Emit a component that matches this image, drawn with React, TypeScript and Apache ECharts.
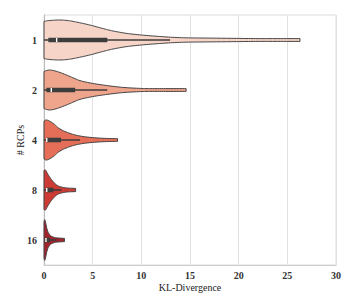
import React, { useEffect, useRef } from "react";
import * as echarts from "echarts";

const categories = ["1", "2", "4", "8", "16"];
const colors = ["#f6d4c8", "#efa58b", "#e46e57", "#cd3b35", "#a2242a"];

// violin profiles: [KL value, relative half-width]
const violin1 = [[0, 0.93], [0.5, 0.97], [1.5, 1.0], [2.5, 0.97], [3.5, 0.88], [4.7, 0.75], [6, 0.58], [7.1, 0.45], [8.5, 0.33], [10, 0.25], [11.5, 0.19], [13, 0.14], [14.5, 0.11], [16, 0.1], [18, 0.09], [20, 0.08], [22, 0.07], [24, 0.07], [26.3, 0.07]];
const violin2 = [[0, 0.93], [0.6, 1.0], [1.5, 0.9], [2.7, 0.67], [3.7, 0.47], [5, 0.33], [6.5, 0.22], [8.1, 0.13], [9.9, 0.08], [11, 0.07], [12.5, 0.07], [14.6, 0.07]];
const violin4 = [[0, 0.95], [0.3, 1.0], [0.95, 0.83], [1.64, 0.55], [2.67, 0.33], [3.7, 0.2], [5, 0.12], [6.4, 0.08], [7.55, 0.07]];
const violin8 = [[0, 0.97], [0.15, 1.0], [0.45, 0.75], [0.8, 0.5], [1.3, 0.25], [1.8, 0.15], [2.4, 0.1], [3.25, 0.08]];
const violin16 = [[0, 0.9], [0.1, 1.0], [0.34, 0.5], [0.6, 0.25], [0.95, 0.15], [1.3, 0.11], [2.1, 0.08]];
const profiles = [violin1, violin2, violin4, violin8, violin16];

// inner box stats
const whiskerLow = [0, 0, 0, 0, 0];
const q1s = [0.45, 0.25, 0.2, 0.2, 0.1];
const medians = [1.3, 0.75, 0.28, 0.28, 0.2];
const q3s = [6.5, 3.2, 1.75, 0.96, 0.6];
const whiskerHigh = [12.95, 6.5, 3.7, 1.8, 1.3];

const xTicks = [0, 5, 10, 15, 20, 25, 30];

function catmull(pts: number[][], steps: number): number[][] {
  const out: number[][] = [];
  for (let i = 0; i < pts.length - 1; i++) {
    const p0 = pts[Math.max(0, i - 1)];
    const p1 = pts[i];
    const p2 = pts[i + 1];
    const p3 = pts[Math.min(pts.length - 1, i + 2)];
    for (let s = 0; s < steps; s++) {
      const t = s / steps;
      const t2 = t * t;
      const t3 = t2 * t;
      const f = (a: number, b: number, c: number, d: number) =>
        0.5 * (2 * b + (-a + c) * t + (2 * a - 5 * b + 4 * c - d) * t2 + (-a + 3 * b - 3 * c + d) * t3);
      out.push([f(p0[0], p1[0], p2[0], p3[0]), f(p0[1], p1[1], p2[1], p3[1])]);
    }
  }
  out.push(pts[pts.length - 1]);
  return out;
}

export default function App() {
  const ref = useRef<HTMLDivElement>(null);
  useEffect(() => {
    if (!ref.current) return;
    const chart = echarts.init(ref.current, undefined, { renderer: "svg" });
    const data = categories.map((_, i) => [i]);
    chart.setOption({
      animation: false,
      backgroundColor: "#ffffff",
      grid: { left: 44, right: 21, top: 15, bottom: 41 },
      xAxis: {
        type: "value",
        min: 0,
        max: 30,
        interval: 5,
        name: "KL-Divergence",
        nameLocation: "middle",
        nameGap: 17,
        nameMoveOverlap: false,
        nameTextStyle: { fontFamily: "Liberation Serif", fontSize: 10, color: "#222", verticalAlign: "top" },
        axisLine: { show: true, lineStyle: { color: "#cccccc", width: 1 } },
        axisTick: { show: false },
        axisLabel: {
          fontFamily: "Liberation Serif",
          fontWeight: "bold",
          fontSize: 10,
          color: "#333",
          margin: 5,
          formatter: (v: number) => (xTicks.includes(v) ? String(v) : ""),
        },
        splitLine: { show: true, lineStyle: { color: "#e2e2e2", width: 1 } },
      },
      yAxis: {
        type: "category",
        data: categories,
        inverse: true,
        name: "# RCPs",
        nameLocation: "middle",
        nameGap: 19,
        nameMoveOverlap: false,
        nameTextStyle: { fontFamily: "Liberation Serif", fontSize: 10, color: "#222" },
        axisLine: { show: true, lineStyle: { color: "#bbbbbb", width: 1 } },
        axisTick: { show: false },
        axisLabel: {
          fontFamily: "Liberation Serif",
          fontWeight: "bold",
          fontSize: 10,
          color: "#333",
          margin: 7,
        },
        splitLine: { show: false },
      },
      graphic: [
        {
          type: "rect",
          shape: { x: 44, y: 15, width: 292, height: 250 },
          style: { fill: "none", stroke: "#dddddd", lineWidth: 1 },
          silent: true,
          z: -1,
        },
      ],
      series: [
        {
          type: "custom",
          data,
          clip: false,
          renderItem: (params: any, api: any) => {
            const i = api.value(0);
            const prof = profiles[i];
            const band = api.size([0, 1])[1];
            const hw = band * 0.4;
            const cy = api.coord([0, i])[1];
            const topPts = prof.map((p) => [api.coord([p[0], i])[0], cy - p[1] * hw]);
            const smoothTop = catmull(topPts, 8);
            const smoothBot = smoothTop.map((p) => [p[0], 2 * cy - p[1]]).reverse();
            const poly = smoothTop.concat(smoothBot);
            const x = (v: number) => api.coord([v, i])[0];
            const boxH = 4.6;
            return {
              type: "group",
              children: [
                {
                  type: "polygon",
                  shape: { points: poly },
                  style: { fill: colors[i], stroke: "#444444", lineWidth: 1 },
                },
                {
                  type: "line",
                  shape: { x1: x(whiskerLow[i]), y1: cy, x2: x(whiskerHigh[i]), y2: cy },
                  style: { stroke: "#3d3d3d", lineWidth: 1.6 },
                },
                {
                  type: "rect",
                  shape: { x: x(q1s[i]), y: cy - boxH / 2, width: x(q3s[i]) - x(q1s[i]), height: boxH },
                  style: { fill: "#3d3d3d" },
                },
                {
                  type: "rect",
                  shape: { x: x(medians[i]) - 0.7, y: cy - boxH / 2 + 0.3, width: 1.4, height: boxH - 0.6 },
                  style: { fill: "#ffffff" },
                },
              ],
            };
          },
        },
      ],
    });
    return () => chart.dispose();
  }, []);
  return (
    <div
      ref={ref}
      style={{ position: "fixed", left: 0, top: 0, width: 357, height: 306, background: "#fff" }}
    />
  );
}
